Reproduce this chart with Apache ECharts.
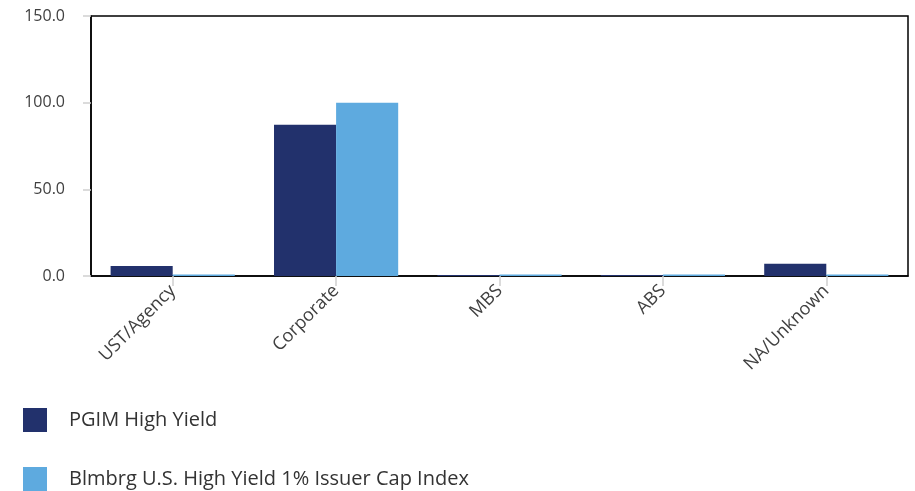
<!DOCTYPE html>
<html><head><meta charset="utf-8">
<script src="https://cdn.jsdelivr.net/npm/echarts@6/dist/echarts.min.js"></script>
<style>html,body{margin:0;padding:0;background:#fff}#c{width:915px;height:491px}</style>
</head><body><div id="c"></div>
<script>
const categories = ["UST/Agency", "Corporate", "MBS", "ABS", "NA/Unknown"];
const pgim = [5.8, 87.2, 0.6, 0.6, 7.0];
const index = [0.8, 100.0, 0.8, 0.8, 0.8];
const seriesNames = ["PGIM High Yield", "Blmbrg U.S. High Yield 1% Issuer Cap Index"];
const yTicks = [0, 50, 100, 150];

const chart = echarts.init(document.getElementById('c'), null, {renderer: 'canvas'});
const font = '"Open Sans", "Segoe UI", sans-serif';
const legendBase = {
  orient: 'vertical', left: 23, itemWidth: 24, itemHeight: 24,
  icon: 'rect', padding: 0,
  textStyle: {fontFamily: font, fontSize: 20, color: '#333', padding: [0, 0, 0, 17]}
};
chart.setOption({
  animation: false,
  grid: {left: 91, right: 7, top: 16, bottom: 215, show: true, borderColor: '#000', borderWidth: 1.5},
  legend: [
    Object.assign({}, legendBase, {top: 408, data: [seriesNames[0]]}),
    Object.assign({}, legendBase, {top: 467, data: [seriesNames[1]]})
  ],
  xAxis: {
    type: 'category', data: categories,
    axisLine: {lineStyle: {color: '#000', width: 1.5}},
    axisTick: {show: true, alignWithLabel: true, length: 10, lineStyle: {color: '#d0d0d0', width: 1.5}},
    axisLabel: {rotate: 45, fontFamily: font, fontSize: 18, color: '#404040', margin: 12}
  },
  yAxis: {
    type: 'value', min: yTicks[0], max: yTicks[yTicks.length - 1], interval: 50,
    splitLine: {show: false},
    axisLine: {show: true, lineStyle: {color: '#000', width: 1.5}},
    axisTick: {show: true, length: 8, inside: false, lineStyle: {color: '#d0d0d0', width: 1.5}},
    axisLabel: {fontFamily: font, fontSize: 16, color: '#404040', margin: 26, formatter: v => v.toFixed(1)}
  },
  series: [
    {name: seriesNames[0], type: 'bar', data: pgim, barGap: '0%', barCategoryGap: '24%', itemStyle: {color: '#22316c'}},
    {name: seriesNames[1], type: 'bar', data: index, barGap: '0%', barCategoryGap: '24%', itemStyle: {color: '#5eaadf'}}
  ]
});
</script></body></html>
